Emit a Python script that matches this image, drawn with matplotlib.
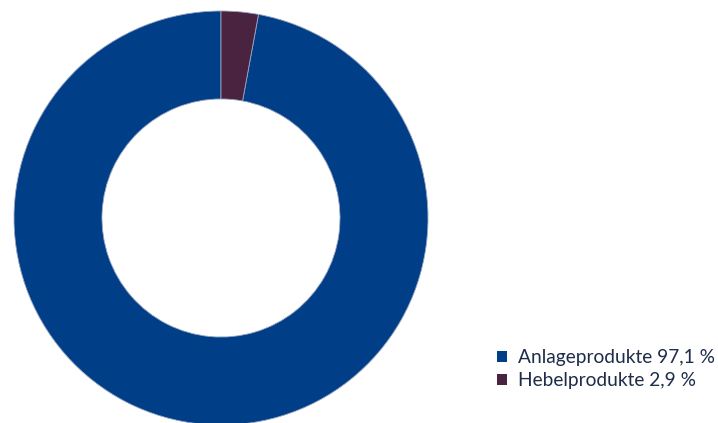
import matplotlib.pyplot as plt
from matplotlib.patches import Patch

labels = ['Anlageprodukte', 'Hebelprodukte']
values = [97.1, 2.9]
colors = ['#003f87', '#4a2340']
text_color = '#1f2d4a'

plt.rcParams['font.family'] = ['Lato', 'DejaVu Sans']

fig = plt.figure(figsize=(7.18, 4.23), dpi=100)
# donut centre at (221, 218) px, outer radius 207 px
ax = fig.add_axes([(221 - 207) / 718, (205 - 207) / 423, 414 / 718, 414 / 423])
ax.pie(values, colors=colors, startangle=90, counterclock=True, radius=1,
       wedgeprops=dict(width=0.425, edgecolor='#9aa4c0', linewidth=0.6))
ax.set_xlim(-1, 1)
ax.set_ylim(-1, 1)
ax.set_aspect('equal')
ax.axis('off')

handles = [Patch(facecolor=c, edgecolor='none') for c in colors]
leg_labels = ['%s %s %%' % (l, ('%.1f' % v).replace('.', ',')) for l, v in zip(labels, values)]
fig.legend(handles, leg_labels, loc='upper left', bbox_to_anchor=(480 / 718, 1 - 332 / 423),
           frameon=False, fontsize=13.8, handlelength=0.5, handleheight=0.5,
           handletextpad=0.58, labelspacing=0.3, labelcolor=text_color)

fig.savefig('out.png', dpi=100)
